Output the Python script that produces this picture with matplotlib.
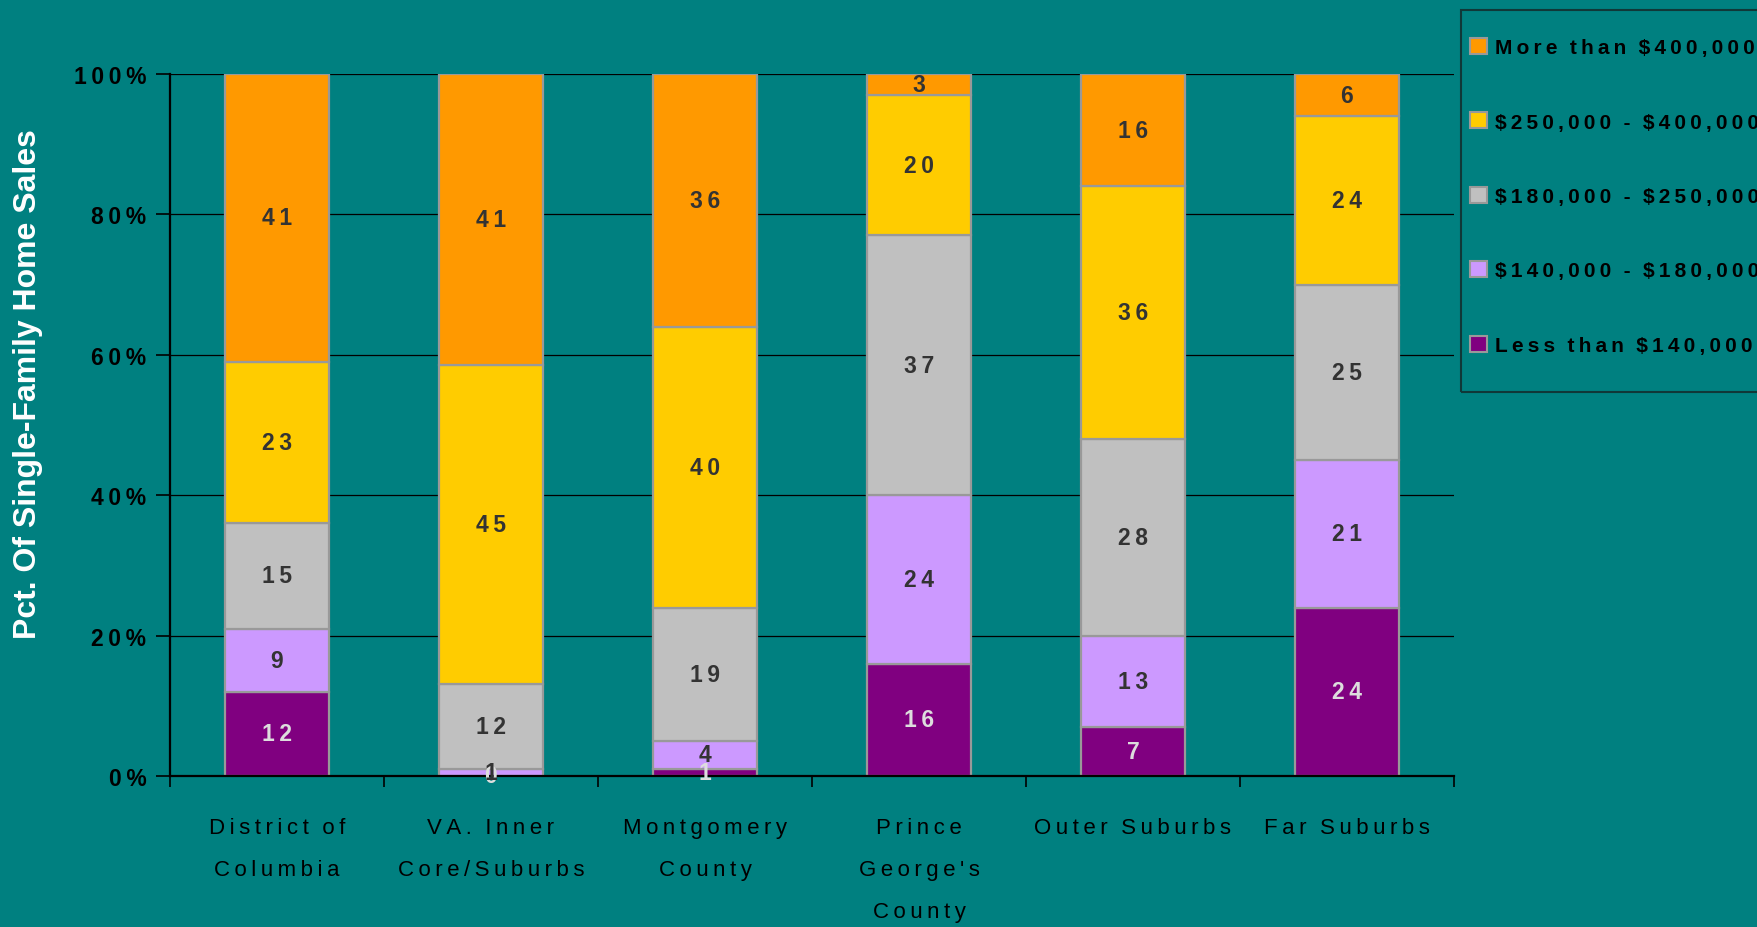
import numpy as np
import matplotlib
matplotlib.use("Agg")
import matplotlib.pyplot as plt
from matplotlib.patches import Patch, Rectangle

plt.rcParams['text.parse_math'] = False

FONT = ['Liberation Sans', 'DejaVu Sans']
THIN = "\u2009"

categories = ["District of\nColumbia", "VA. Inner\nCore/Suburbs", "Montgomery\nCounty",
              "Prince\nGeorge's\nCounty", "Outer Suburbs", "Far Suburbs"]

# values (percent of sales), bottom series first
less_140k = [12, 0, 1, 16, 7, 24]
from_140_180k = [9, 1, 4, 24, 13, 21]
from_180_250k = [15, 12, 19, 37, 28, 25]
from_250_400k = [23, 45, 40, 20, 36, 24]
more_400k = [41, 41, 36, 3, 16, 6]

series_names = ["Less than $140,000", "$140,000 - $180,000", "$180,000 - $250,000",
                "$250,000 - $400,000", "More than $400,000"]
series_values = [less_140k, from_140_180k, from_180_250k, from_250_400k, more_400k]
series_colors = ["#800080", "#CC99FF", "#C0C0C0", "#FFCC00", "#FF9900"]
label_colors = ["#DDDDDD", "#333333", "#333333", "#333333", "#333333"]

BG = "#008080"


def spaced(s):
    # the original chart draws its text with wide letter spacing
    lines = []
    for line in s.split("\n"):
        lines.append((THIN * 3).join(THIN.join(w) for w in line.split(" ")))
    return "\n".join(lines)


fig = plt.figure(figsize=(17.58, 9.28), dpi=100, facecolor=BG)
ax = fig.add_axes([170 / 1758, 151 / 928, 1284 / 1758, 702 / 928])
ax.set_facecolor(BG)

totals = np.sum(np.array(series_values, dtype=float), axis=0)
x = np.arange(len(categories))
bottom = np.zeros(len(categories))
for name, vals, color, lcolor in zip(series_names, series_values, series_colors, label_colors):
    pct = np.array(vals, dtype=float) / totals * 100
    bars = ax.bar(x, pct, 0.49, bottom=bottom, color=color, edgecolor="#999999",
                  linewidth=1.6, label=name, zorder=2)
    ax.bar_label(bars, labels=[spaced(str(v)) for v in vals], label_type="center",
                 color=lcolor, fontsize=16.5, fontweight="bold", family=FONT, zorder=3)
    bottom += pct

ax.set_xlim(-0.5, len(categories) - 0.5)
ax.set_ylim(0, 100)

ax.set_yticks(np.arange(0, 101, 20))
ax.set_yticklabels([spaced(f"{v}%") for v in range(0, 101, 20)],
                   fontsize=16.5, fontweight="bold", family=FONT)
ax.tick_params(axis="y", length=10, width=1.2, color="black", pad=7)

ax.set_xticks(x)
ax.set_xticklabels([spaced(c) for c in categories], fontsize=16, family=FONT,
                   linespacing=2.3, va="top")
ax.tick_params(axis="x", which="major", length=0, pad=29.5)
ax.set_xticks(np.arange(-0.5, len(categories), 1.0), minor=True)
ax.tick_params(axis="x", which="minor", length=8, width=1.2, color="black")

ax.grid(axis="y", color="black", linewidth=0.9)
ax.set_axisbelow(True)
for side in ["top", "right"]:
    ax.spines[side].set_visible(False)
for side in ["left", "bottom"]:
    ax.spines[side].set_color("black")
    ax.spines[side].set_linewidth(1.6)

fig.text(28 / 1758, 544 / 928, "Pct. Of Single-Family Home Sales", rotation=90,
         ha="center", va="center", color="white", fontsize=23, fontweight="bold",
         family=FONT)

# legend box runs off the right edge of the picture, as in the original
fig.add_artist(Rectangle((1461 / 1758, 1 - 393 / 928), 400 / 1758, 382 / 928,
                         transform=fig.transFigure, facecolor="none",
                         edgecolor="#103838", linewidth=1.5))
handles = [Patch(facecolor=c, edgecolor="#999999", linewidth=1.5) for c in series_colors]
leg = fig.legend(handles[::-1], [spaced(n) for n in series_names[::-1]],
                 loc="upper left", bbox_to_anchor=(1470 / 1758, 1 - 39 / 928),
                 bbox_transform=fig.transFigure, borderaxespad=0, borderpad=0,
                 prop={"family": FONT, "weight": "bold", "size": 15},
                 handlelength=0.8, handleheight=0.8, handletextpad=0.4,
                 labelspacing=2.65, frameon=False)

fig.savefig("out.png", dpi=100, facecolor=BG)
